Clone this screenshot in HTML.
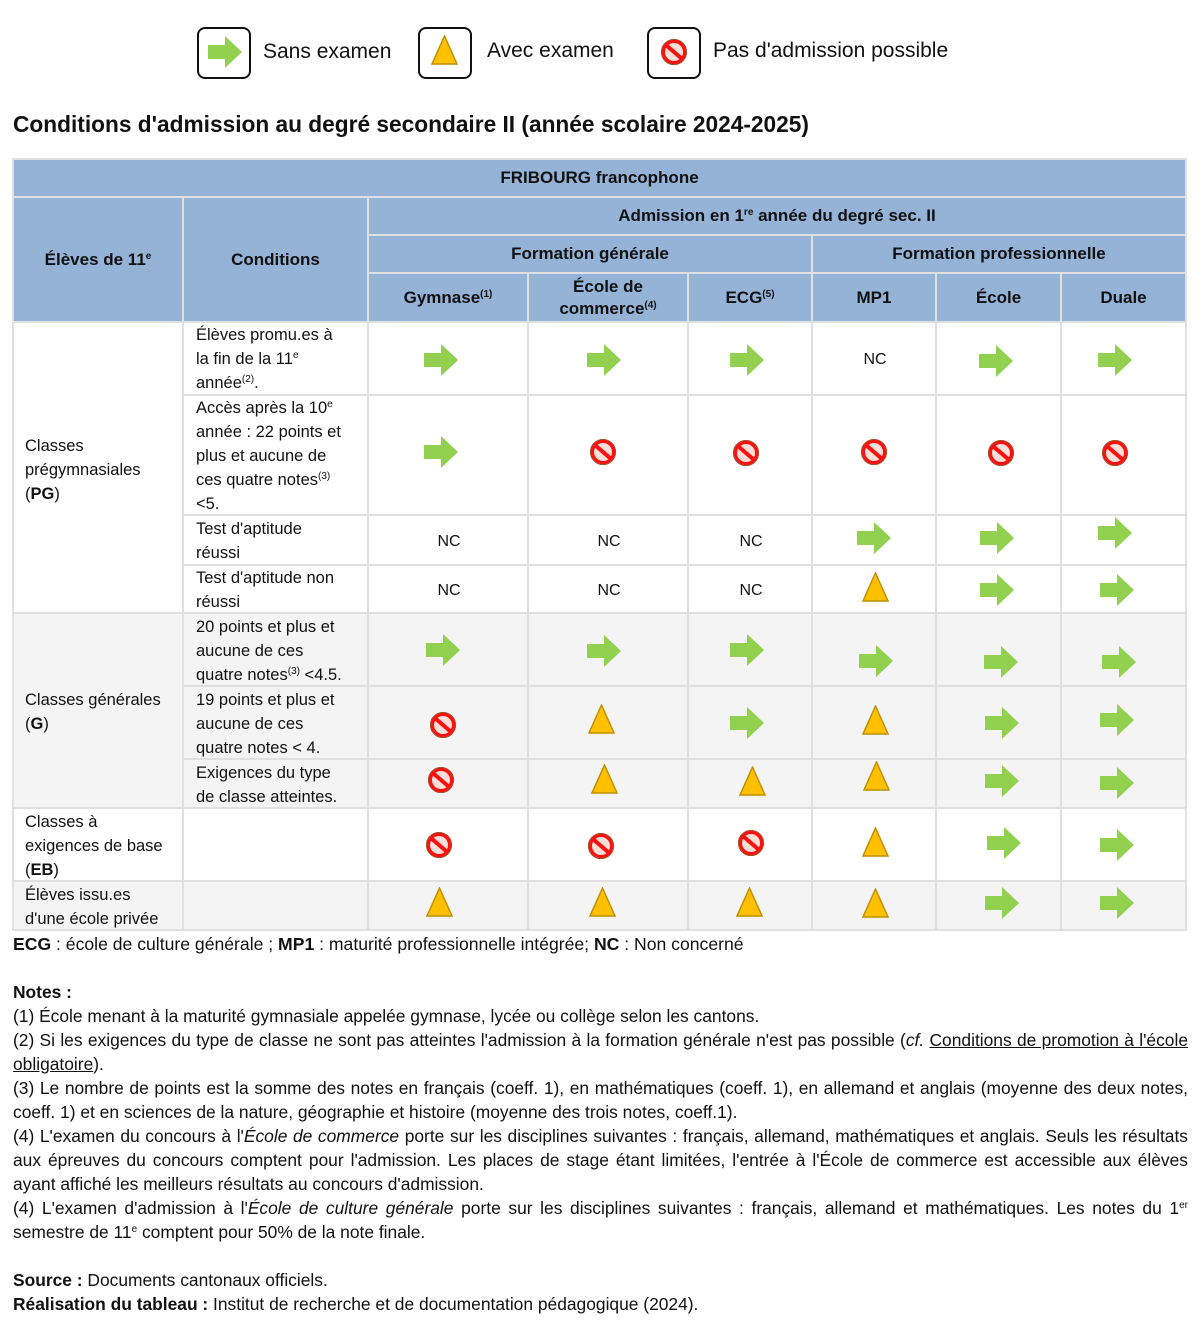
<!DOCTYPE html>
<html><head><meta charset="utf-8"><style>
body{margin:0;width:1200px;height:1336px;background:#fff;font-family:"Liberation Sans",sans-serif;color:#111;position:relative;overflow:hidden}
.a{position:absolute}
.t{position:absolute;font-size:16.5px;line-height:24px}
.h{position:absolute;background:#95b3d7;font-weight:bold;font-size:17px;display:flex;align-items:center;justify-content:center;text-align:center;line-height:22px}
.hl{position:absolute;height:2px;background:#e0e0e0}
.vl{position:absolute;width:2px;background:#e0e0e0}
.g{position:absolute;background:#f4f4f4}
.c{position:absolute;font-size:16px;transform:translate(-50%,-50%)}
sup{font-size:10px;line-height:0;vertical-align:6px}
.n{position:absolute;font-size:17.4px;line-height:24px;left:13px;width:1175px;text-align:justify}
</style></head><body>
<svg width="0" height="0" style="position:absolute">
<defs>
<g id="ar"><path d="M0 9h17V0l17 16-17 16v-9H0z" fill="#92d050"/></g>
<g id="tr"><polygon points="13.5,1 26,29 1,29" fill="#ffc000" stroke="#bf9000" stroke-width="1.5"/></g>
<g id="no"><circle cx="13" cy="13" r="11" fill="#f8e0d8" stroke="#ff1010" stroke-width="4"/><circle cx="13" cy="13" r="12.5" fill="none" stroke="#a0522d" stroke-width="1"/><line x1="6" y1="7" x2="20" y2="19" stroke="#ff1010" stroke-width="4"/></g>
</defs></svg>

<div class="a" style="left:197px;top:27px;width:50px;height:48px;border:2px solid #111;border-radius:8px"></div>
<svg class="a" style="left:208px;top:36px" width="34" height="32"><use href="#ar"/></svg>
<div class="t" style="left:263px;top:40px;font-size:21px">Sans examen</div>
<div class="a" style="left:418px;top:27px;width:50px;height:48px;border:2px solid #111;border-radius:8px"></div>
<svg class="a" style="left:431px;top:35px" width="27" height="31"><use href="#tr"/></svg>
<div class="t" style="left:487px;top:39px;font-size:21px">Avec examen</div>
<div class="a" style="left:647px;top:27px;width:50px;height:48px;border:2px solid #111;border-radius:8px"></div>
<svg class="a" style="left:661px;top:39px" width="26" height="26"><use href="#no"/></svg>
<div class="t" style="left:713px;top:39px;font-size:21px">Pas d'admission possible</div>

<div class="t" style="left:13px;top:112px;font-size:22.7px;font-weight:bold">Conditions d'admission au degré secondaire II (année scolaire 2024-2025)</div>

<div class="g" style="left:13px;top:613px;width:1173px;height:195px"></div>
<div class="g" style="left:13px;top:881px;width:1173px;height:49px"></div>

<div class="h" style="left:13px;top:159px;width:1173px;height:38px"><span>FRIBOURG francophone</span></div>
<div class="h" style="left:13px;top:197px;width:170px;height:125px"><span>Élèves de 11<sup>e</sup></span></div>
<div class="h" style="left:183px;top:197px;width:185px;height:125px"><span>Conditions</span></div>
<div class="h" style="left:368px;top:197px;width:818px;height:38px"><span>Admission en 1<sup>re</sup> année du degré sec. II</span></div>
<div class="h" style="left:368px;top:235px;width:444px;height:38px"><span>Formation générale</span></div>
<div class="h" style="left:812px;top:235px;width:374px;height:38px"><span>Formation professionnelle</span></div>
<div class="h" style="left:368px;top:273px;width:160px;height:49px"><span>Gymnase<sup>(1)</sup></span></div>
<div class="h" style="left:528px;top:273px;width:160px;height:49px"><span>École de<br>commerce<sup>(4)</sup></span></div>
<div class="h" style="left:688px;top:273px;width:124px;height:49px"><span>ECG<sup>(5)</sup></span></div>
<div class="h" style="left:812px;top:273px;width:124px;height:49px"><span>MP1</span></div>
<div class="h" style="left:936px;top:273px;width:125px;height:49px"><span>École</span></div>
<div class="h" style="left:1061px;top:273px;width:125px;height:49px"><span>Duale</span></div>

<div class="hl" style="left:13px;top:158px;width:1174px"></div>
<div class="hl" style="left:13px;top:196px;width:1174px"></div>
<div class="hl" style="left:368px;top:234px;width:819px"></div>
<div class="hl" style="left:368px;top:272px;width:819px"></div>
<div class="hl" style="left:13px;top:321px;width:1174px"></div>
<div class="hl" style="left:183px;top:394px;width:1004px"></div>
<div class="hl" style="left:183px;top:514px;width:1004px"></div>
<div class="hl" style="left:183px;top:564px;width:1004px"></div>
<div class="hl" style="left:13px;top:612px;width:1174px"></div>
<div class="hl" style="left:183px;top:685px;width:1004px"></div>
<div class="hl" style="left:183px;top:758px;width:1004px"></div>
<div class="hl" style="left:13px;top:807px;width:1174px"></div>
<div class="hl" style="left:13px;top:880px;width:1174px"></div>
<div class="hl" style="left:13px;top:929px;width:1174px"></div>
<div class="vl" style="left:12px;top:158px;height:773px"></div>
<div class="vl" style="left:1185px;top:158px;height:773px"></div>
<div class="vl" style="left:182px;top:196px;height:735px"></div>
<div class="vl" style="left:367px;top:196px;height:735px"></div>
<div class="vl" style="left:527px;top:272px;height:659px"></div>
<div class="vl" style="left:687px;top:272px;height:659px"></div>
<div class="vl" style="left:811px;top:234px;height:697px"></div>
<div class="vl" style="left:935px;top:272px;height:659px"></div>
<div class="vl" style="left:1060px;top:272px;height:659px"></div>

<div class="t" style="left:25px;top:434px">Classes<br>prégymnasiales<br>(<b>PG</b>)</div>
<div class="t" style="left:25px;top:688px">Classes générales<br>(<b>G</b>)</div>
<div class="t" style="left:25px;top:810px">Classes à<br>exigences de base<br>(<b>EB</b>)</div>
<div class="t" style="left:25px;top:883px">Élèves issu.es<br>d'une école privée</div>

<div class="t" style="left:196px;top:323px">Élèves promu.es à<br>la fin de la 11<sup>e</sup><br>année<sup>(2)</sup>.</div>
<div class="t" style="left:196px;top:396px">Accès après la 10<sup>e</sup><br>année : 22 points et<br>plus et aucune de<br>ces quatre notes<sup>(3)</sup><br>&lt;5.</div>
<div class="t" style="left:196px;top:517px">Test d'aptitude<br>réussi</div>
<div class="t" style="left:196px;top:566px">Test d'aptitude non<br>réussi</div>
<div class="t" style="left:196px;top:615px">20 points et plus et<br>aucune de ces<br>quatre notes<sup>(3)</sup> &lt;4.5.</div>
<div class="t" style="left:196px;top:688px">19 points et plus et<br>aucune de ces<br>quatre notes &lt; 4.</div>
<div class="t" style="left:196px;top:761px">Exigences du type<br>de classe atteintes.</div>

<div class="c" style="left:875px;top:360px">NC</div>
<div class="c" style="left:449px;top:542px">NC</div>
<div class="c" style="left:609px;top:542px">NC</div>
<div class="c" style="left:751px;top:542px">NC</div>
<div class="c" style="left:449px;top:591px">NC</div>
<div class="c" style="left:609px;top:591px">NC</div>
<div class="c" style="left:751px;top:591px">NC</div>

<svg class="a" style="left:424px;top:344px" width="34" height="32"><use href="#ar"/></svg>
<svg class="a" style="left:587px;top:344px" width="34" height="32"><use href="#ar"/></svg>
<svg class="a" style="left:730px;top:344px" width="34" height="32"><use href="#ar"/></svg>
<svg class="a" style="left:979px;top:345px" width="34" height="32"><use href="#ar"/></svg>
<svg class="a" style="left:1098px;top:344px" width="34" height="32"><use href="#ar"/></svg>
<svg class="a" style="left:424px;top:436px" width="34" height="32"><use href="#ar"/></svg>
<svg class="a" style="left:857px;top:522px" width="34" height="32"><use href="#ar"/></svg>
<svg class="a" style="left:980px;top:522px" width="34" height="32"><use href="#ar"/></svg>
<svg class="a" style="left:1098px;top:517px" width="34" height="32"><use href="#ar"/></svg>
<svg class="a" style="left:980px;top:574px" width="34" height="32"><use href="#ar"/></svg>
<svg class="a" style="left:1100px;top:574px" width="34" height="32"><use href="#ar"/></svg>
<svg class="a" style="left:426px;top:634px" width="34" height="32"><use href="#ar"/></svg>
<svg class="a" style="left:587px;top:635px" width="34" height="32"><use href="#ar"/></svg>
<svg class="a" style="left:730px;top:634px" width="34" height="32"><use href="#ar"/></svg>
<svg class="a" style="left:859px;top:645px" width="34" height="32"><use href="#ar"/></svg>
<svg class="a" style="left:984px;top:646px" width="34" height="32"><use href="#ar"/></svg>
<svg class="a" style="left:1102px;top:646px" width="34" height="32"><use href="#ar"/></svg>
<svg class="a" style="left:730px;top:707px" width="34" height="32"><use href="#ar"/></svg>
<svg class="a" style="left:985px;top:707px" width="34" height="32"><use href="#ar"/></svg>
<svg class="a" style="left:1100px;top:704px" width="34" height="32"><use href="#ar"/></svg>
<svg class="a" style="left:985px;top:765px" width="34" height="32"><use href="#ar"/></svg>
<svg class="a" style="left:1100px;top:767px" width="34" height="32"><use href="#ar"/></svg>
<svg class="a" style="left:987px;top:827px" width="34" height="32"><use href="#ar"/></svg>
<svg class="a" style="left:1100px;top:829px" width="34" height="32"><use href="#ar"/></svg>
<svg class="a" style="left:985px;top:887px" width="34" height="32"><use href="#ar"/></svg>
<svg class="a" style="left:1100px;top:887px" width="34" height="32"><use href="#ar"/></svg>

<svg class="a" style="left:590px;top:439px" width="26" height="26"><use href="#no"/></svg>
<svg class="a" style="left:733px;top:440px" width="26" height="26"><use href="#no"/></svg>
<svg class="a" style="left:861px;top:439px" width="26" height="26"><use href="#no"/></svg>
<svg class="a" style="left:988px;top:440px" width="26" height="26"><use href="#no"/></svg>
<svg class="a" style="left:1102px;top:440px" width="26" height="26"><use href="#no"/></svg>
<svg class="a" style="left:430px;top:712px" width="26" height="26"><use href="#no"/></svg>
<svg class="a" style="left:428px;top:767px" width="26" height="26"><use href="#no"/></svg>
<svg class="a" style="left:426px;top:832px" width="26" height="26"><use href="#no"/></svg>
<svg class="a" style="left:588px;top:833px" width="26" height="26"><use href="#no"/></svg>
<svg class="a" style="left:738px;top:830px" width="26" height="26"><use href="#no"/></svg>

<svg class="a" style="left:862px;top:572px" width="27" height="31"><use href="#tr"/></svg>
<svg class="a" style="left:588px;top:704px" width="27" height="31"><use href="#tr"/></svg>
<svg class="a" style="left:862px;top:705px" width="27" height="31"><use href="#tr"/></svg>
<svg class="a" style="left:591px;top:764px" width="27" height="31"><use href="#tr"/></svg>
<svg class="a" style="left:739px;top:766px" width="27" height="31"><use href="#tr"/></svg>
<svg class="a" style="left:863px;top:761px" width="27" height="31"><use href="#tr"/></svg>
<svg class="a" style="left:862px;top:827px" width="27" height="31"><use href="#tr"/></svg>
<svg class="a" style="left:426px;top:887px" width="27" height="31"><use href="#tr"/></svg>
<svg class="a" style="left:589px;top:887px" width="27" height="31"><use href="#tr"/></svg>
<svg class="a" style="left:736px;top:887px" width="27" height="31"><use href="#tr"/></svg>
<svg class="a" style="left:862px;top:888px" width="27" height="31"><use href="#tr"/></svg>

<div class="t" style="left:13px;top:932px;font-size:17.6px"><b>ECG</b> : école de culture générale ; <b>MP1</b> : maturité professionnelle intégrée; <b>NC</b> : Non concerné</div>
<div class="n" style="top:980px"><b>Notes :</b><br>
(1) École menant à la maturité gymnasiale appelée gymnase, lycée ou collège selon les cantons.<br>
(2) Si les exigences du type de classe ne sont pas atteintes l'admission à la formation générale n'est pas possible (<i>cf.</i> <u>Conditions de promotion à l'école obligatoire</u>).<br>
(3) Le nombre de points est la somme des notes en français (coeff. 1), en mathématiques (coeff. 1), en allemand et anglais (moyenne des deux notes, coeff. 1) et en sciences de la nature, géographie et histoire (moyenne des trois notes, coeff.1).<br>
(4) L'examen du concours à l'<i>École de commerce</i> porte sur les disciplines suivantes : français, allemand, mathématiques et anglais. Seuls les résultats aux épreuves du concours comptent pour l'admission. Les places de stage étant limitées, l'entrée à l'École de commerce est accessible aux élèves ayant affiché les meilleurs résultats au concours d'admission.<br>
(4) L'examen d'admission à l'<i>École de culture générale</i> porte sur les disciplines suivantes : français, allemand et mathématiques. Les notes du 1<sup>er</sup> semestre de 11<sup>e</sup> comptent pour 50% de la note finale.<br><br>
<b>Source :</b> Documents cantonaux officiels.<br>
<b>Réalisation du tableau :</b> Institut de recherche et de documentation pédagogique (2024).</div>
</body></html>
